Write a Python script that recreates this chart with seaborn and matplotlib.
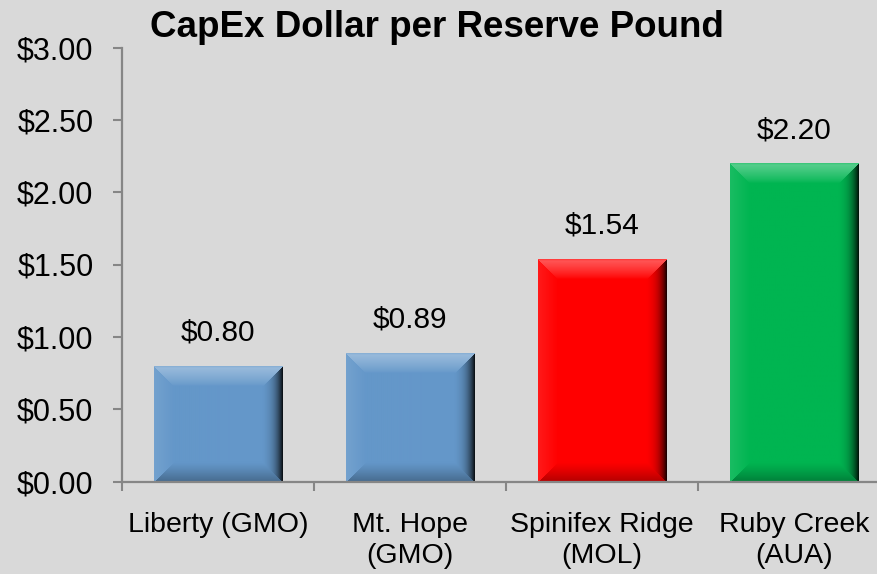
import numpy as np
import pandas as pd
import matplotlib
matplotlib.use("Agg")
import matplotlib.pyplot as plt
import matplotlib.transforms as mtransforms
from matplotlib.colors import to_rgb
import seaborn as sns

# ---------------- data ----------------
categories = ["Liberty (GMO)", "Mt. Hope\n(GMO)", "Spinifex Ridge\n(MOL)", "Ruby Creek\n(AUA)"]
values = [0.80, 0.89, 1.54, 2.20]
value_labels = ["$0.80", "$0.89", "$1.54", "$2.20"]
y_ticks = [0.0, 0.5, 1.0, 1.5, 2.0, 2.5, 3.0]
y_tick_labels = ["$0.00", "$0.50", "$1.00", "$1.50", "$2.00", "$2.50", "$3.00"]
title = "CapEx Dollar per Reserve Pound"

# ---------------- style ----------------
bar_colors = ["#6497c9", "#6497c9", "#ff0000", "#00b551"]
BG = "#d9d9d9"
AXIS_C = "#868686"

sns.set_theme(style="white")
plt.rcParams["font.family"] = ["Liberation Sans", "DejaVu Sans"]

W_PX, H_PX = 878, 574
fig = plt.figure(figsize=(W_PX / 100, H_PX / 100), dpi=100, facecolor=BG)
ax = fig.add_axes([122 / W_PX, 1 - 481.5 / H_PX, (890 - 122) / W_PX, (481.5 - 47.5) / H_PX])
ax.set_facecolor(BG)

df = pd.DataFrame({"category": categories, "value": values})
sns.barplot(data=df, x="category", y="value", hue="category", palette=bar_colors,
            width=0.667, legend=False, ax=ax, saturation=1, edgecolor="none",
            linewidth=0, zorder=2)

ax.set_xlim(-0.5, 3.5)
ax.set_ylim(0, 3)


def add_bevel(ax, patch, color, B=20.0):
    x0, y0 = patch.get_x(), patch.get_y()
    w, h = patch.get_width(), patch.get_height()
    (px0, py0), (px1, py1) = ax.transData.transform([(x0, y0), (x0 + w, y0 + h)])
    Wp = max(int(round(px1 - px0)), 2)
    Hp = max(int(round(py1 - py0)), 2)
    jj, ii = np.meshgrid(np.arange(Wp) + 0.5, np.arange(Hp) + 0.5)
    stack = np.stack([ii, jj, Wp - jj, Hp - ii])  # top, left, right, bottom
    idx = stack.argmin(0)
    d = stack.min(0)
    t = np.clip(d / B, 0, 1)
    s = 1 - t
    a = np.zeros_like(t)
    a = np.where(idx == 0, 0.36 * s ** 0.8 - 0.15 * np.clip(1 - d / 2.0, 0, 1), a)
    a = np.where(idx == 1, 0.10 * s, a)
    a = np.where(idx == 2, -(0.72 * s ** 3 + 0.22 * s), a)
    a = np.where(idx == 3, -(0.30 * s ** 1.2), a)
    a = np.clip(a, -0.88, 0.9)
    base = np.array(to_rgb(color))
    img = np.ones((Hp, Wp, 3)) * base
    light = img + (1 - img) * np.clip(a, 0, None)[..., None]
    dark = img * (1 + np.clip(a, None, 0))[..., None]
    img = np.where((a >= 0)[..., None], light, dark)
    ax.imshow(img, extent=(x0, x0 + w, y0, y0 + h), origin="upper", aspect="auto",
              zorder=patch.get_zorder() + 0.1, interpolation="bilinear")


patches = sorted(ax.patches, key=lambda p: p.get_x())
for p, c in zip(patches, bar_colors):
    add_bevel(ax, p, c)

ax.set_xlim(-0.5, 3.5)
ax.set_ylim(0, 3)

# value labels
off = mtransforms.offset_copy(ax.transData, fig=fig, x=0, y=25, units="dots")
for p, v, lab in zip(patches, values, value_labels):
    ax.text(p.get_x() + p.get_width() / 2, v, lab, transform=off, ha="center",
            va="baseline", fontsize=21.5, color="black", zorder=5)

# axes styling
for sp in ["top", "right"]:
    ax.spines[sp].set_visible(False)
for sp in ["left", "bottom"]:
    ax.spines[sp].set_color(AXIS_C)
    ax.spines[sp].set_linewidth(1.6)
    ax.spines[sp].set_zorder(4)

ax.set_yticks(y_ticks)
ax.set_yticklabels(y_tick_labels, fontsize=22, color="black")
ax.tick_params(axis="y", which="major", direction="out", left=True, length=6.5,
               width=1.5, color=AXIS_C, pad=14)

ax.set_xticks(range(len(categories)))
ax.set_xticklabels(categories, fontsize=20.5, color="black", linespacing=1.26)
ax.tick_params(axis="x", which="major", length=0, pad=22, bottom=False)
ax.set_xticks([-0.5, 0.5, 1.5, 2.5, 3.5], minor=True)
ax.tick_params(axis="x", which="minor", direction="out", bottom=True, length=6.5,
               width=1.5, color=AXIS_C)
ax.set_xlabel("")
ax.set_ylabel("")
ax.grid(False)

fig.text(437 / W_PX, 1 - 37 / H_PX, title, ha="center", va="baseline",
         fontsize=26.5, fontweight="bold", color="black")

fig.savefig("out.png", dpi=100, facecolor=BG)
